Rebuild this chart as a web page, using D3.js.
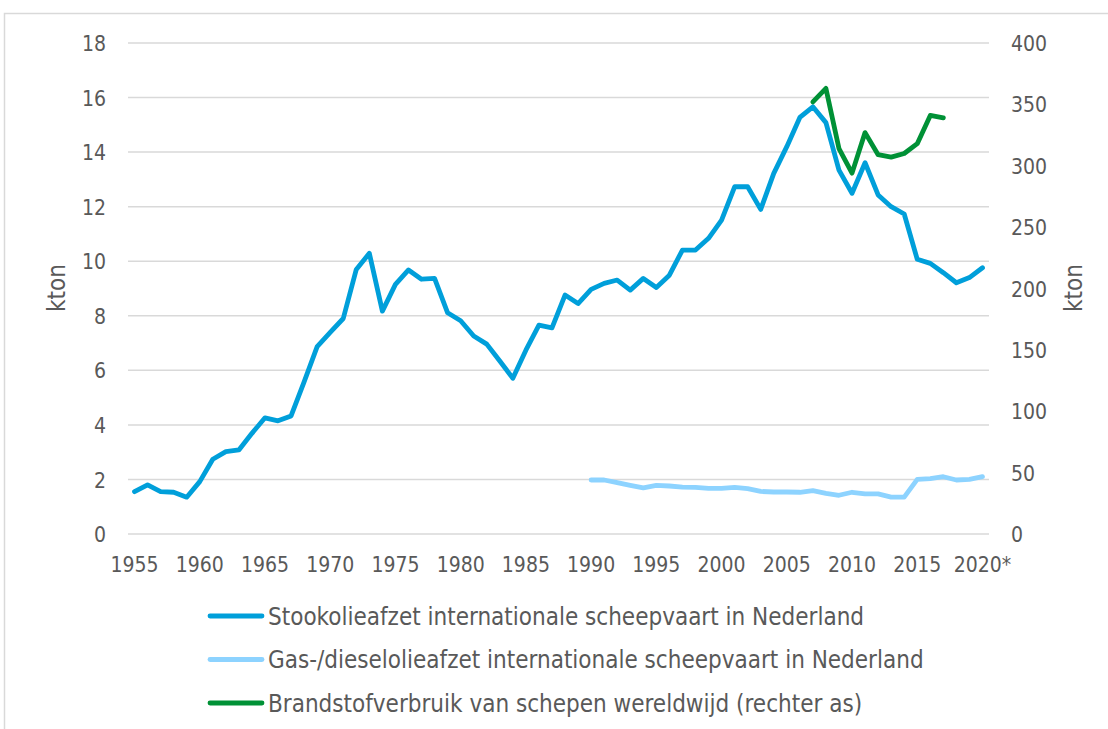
<!DOCTYPE html>
<html>
<head>
<meta charset="UTF-8">
<title>Scheepvaart brandstof</title>
<style>
  body { margin: 0; background: #fff; }
  text { font-family: "DejaVu Sans Condensed", "DejaVu Sans", sans-serif; fill: #595959; }
  .grid line { stroke: #d9d9d9; stroke-width: 1.5px; }
  .serie { fill: none; stroke-width: 4.8px; stroke-linejoin: round; stroke-linecap: round; }
</style>
<script src="https://d3js.org/d3.v7.min.js"></script>
</head>
<body>
<script>
// jaren 1955 t/m 2020*
var jaren = d3.range(1955, 2021);
var jaarLabels = jaren.map(function(j) { return j === 2020 ? "2020*" : String(j); });

// stookolieafzet internationale scheepvaart NL (linker as)
var stookolie = [1.55, 1.80, 1.55, 1.53, 1.35, 1.92, 2.74, 3.02, 3.08, 3.69,
  4.26, 4.15, 4.33, 5.58, 6.87, 7.39, 7.90, 9.70, 10.29, 8.17,
  9.15, 9.68, 9.34, 9.37, 8.11, 7.82, 7.26, 6.96, 6.34, 5.71,
  6.74, 7.66, 7.56, 8.76, 8.45, 8.97, 9.19, 9.31, 8.94, 9.37,
  9.04, 9.49, 10.41, 10.41, 10.84, 11.51, 12.73, 12.73, 11.90, 13.22,
  14.20, 15.27, 15.66, 15.08, 13.34, 12.49, 13.61, 12.43, 12.00, 11.73,
  10.07, 9.92, 9.58, 9.21, 9.40, 9.76];

// gas-/dieselolieafzet, vanaf 1990 (linker as)
var gasolieJaren = d3.range(1990, 2021);
var gasolie = [1.98, 1.98, 1.88, 1.78, 1.69, 1.78, 1.76, 1.72, 1.71, 1.67,
  1.67, 1.71, 1.66, 1.56, 1.54, 1.54, 1.53, 1.59, 1.49, 1.42,
  1.53, 1.47, 1.47, 1.35, 1.35, 2.00, 2.03, 2.10, 1.98, 2.00, 2.10];

// brandstofverbruik schepen wereldwijd (rechter as)
var wereldJaren = d3.range(2007, 2018);
var wereld = [352, 363, 314, 294, 327, 309, 307, 310, 318, 341, 339];

var linksTicks = [0, 2, 4, 6, 8, 10, 12, 14, 16, 18];
var rechtsTicks = [0, 50, 100, 150, 200, 250, 300, 350, 400];

var legenda = [
  { naam: "Stookolieafzet internationale scheepvaart in Nederland", kleur: "#009fda" },
  { naam: "Gas-/dieselolieafzet internationale scheepvaart in Nederland", kleur: "#8dd3ff" },
  { naam: "Brandstofverbruik van schepen wereldwijd (rechter as)", kleur: "#009136" }
];

var W = 1108, H = 729;
var plot = { left: 128, right: 989, top: 43, bottom: 534 };

var svg = d3.select("body").append("svg")
  .attr("width", W)
  .attr("height", H);

// kader
svg.append("rect")
  .attr("x", 4.5).attr("y", 13.5)
  .attr("width", W + 10).attr("height", H + 10)
  .attr("fill", "none")
  .attr("stroke", "#d9d9d9")
  .attr("stroke-width", 1.5);

var x = d3.scaleBand()
  .domain(jaren)
  .range([plot.left, plot.right]);
var xp = function(j) { return x(j) + x.bandwidth() / 2; };

var yL = d3.scaleLinear().domain([0, 18]).range([plot.bottom, plot.top]);
var yR = d3.scaleLinear().domain([0, 400]).range([plot.bottom, plot.top]);

// rasterlijnen
svg.append("g").attr("class", "grid")
  .selectAll("line").data(linksTicks).enter().append("line")
  .attr("x1", plot.left).attr("x2", plot.right)
  .attr("y1", function(d) { return yL(d); })
  .attr("y2", function(d) { return yL(d); });

// linker as
var asL = svg.append("g")
  .attr("transform", "translate(" + (plot.left - 22) + ",0)")
  .call(d3.axisLeft(yL).tickValues(linksTicks).tickSize(0).tickPadding(0));
asL.select(".domain").remove();

// rechter as
var asR = svg.append("g")
  .attr("transform", "translate(" + (plot.right + 22) + ",0)")
  .call(d3.axisRight(yR).tickValues(rechtsTicks).tickSize(0).tickPadding(0));
asR.select(".domain").remove();

// x-as
var asX = svg.append("g")
  .attr("transform", "translate(0," + plot.bottom + ")")
  .call(d3.axisBottom(x)
    .tickValues(jaren.filter(function(j) { return (j - 1955) % 5 === 0; }))
    .tickFormat(function(j) { return jaarLabels[jaren.indexOf(j)]; })
    .tickSize(0).tickPadding(30));
asX.select(".domain").remove();
asX.selectAll(".tick text").attr("dy", "0.36em");

svg.selectAll(".tick text")
  .style("font-family", "'DejaVu Sans Condensed', 'DejaVu Sans', sans-serif")
  .style("font-size", "21px")
  .attr("fill", "#595959");
asL.selectAll(".tick text").attr("dy", "0.36em");
asR.selectAll(".tick text").attr("dy", "0.36em");

// as-titels
svg.append("text")
  .attr("transform", "translate(65,288) rotate(-90)")
  .attr("text-anchor", "middle")
  .style("font-size", "24px")
  .text("kton");
svg.append("text")
  .attr("transform", "translate(1082,288) rotate(-90)")
  .attr("text-anchor", "middle")
  .style("font-size", "24px")
  .text("kton");

// lijnen
var lijnL = d3.line()
  .x(function(d) { return xp(d[0]); })
  .y(function(d) { return yL(d[1]); });
var lijnR = d3.line()
  .x(function(d) { return xp(d[0]); })
  .y(function(d) { return yR(d[1]); });

svg.append("path")
  .datum(d3.zip(jaren, stookolie))
  .attr("class", "serie")
  .attr("stroke", legenda[0].kleur)
  .attr("d", lijnL);

svg.append("path")
  .datum(d3.zip(gasolieJaren, gasolie))
  .attr("class", "serie")
  .attr("stroke", legenda[1].kleur)
  .attr("d", lijnL);

svg.append("path")
  .datum(d3.zip(wereldJaren, wereld))
  .attr("class", "serie")
  .attr("stroke", legenda[2].kleur)
  .attr("d", lijnR);

// legenda
var leg = svg.append("g").selectAll("g").data(legenda).enter().append("g")
  .attr("transform", function(d, i) { return "translate(208," + (616 + i * 43.5) + ")"; });
leg.append("line")
  .attr("x1", 2).attr("x2", 54)
  .attr("stroke", function(d) { return d.kleur; })
  .attr("stroke-width", 4.8)
  .attr("stroke-linecap", "round");
leg.append("text")
  .attr("x", 60)
  .attr("dy", "0.36em")
  .style("font-size", "24px")
  .text(function(d) { return d.naam; });
</script>
</body>
</html>
